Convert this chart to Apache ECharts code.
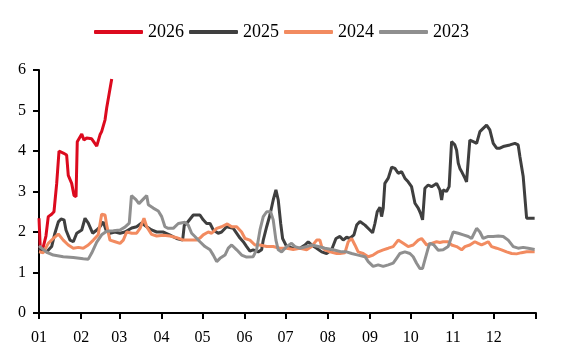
<!DOCTYPE html>
<html>
<head>
<meta charset="utf-8">
<script src="https://cdn.jsdelivr.net/npm/echarts@6/dist/echarts.min.js"></script>
<style>html,body{margin:0;padding:0;background:#fff;}#c{width:563px;height:364px;}</style>
</head>
<body>
<div id="c"></div>
<script>
// Month boundaries (day of year) and tick labels
var monthStarts = [0, 31, 59, 90, 120, 151, 181, 212, 243, 273, 304, 334, 365];
var monthLabels = ['01','02','03','04','05','06','07','08','09','10','11','12'];

// 2026
var days2026 = [0,1,2.9,5.1,6.8,9.3,11.0,13.0,14.7,17.8,20.3,21.5,24.0,25.7,27.2,28.1,31.4,33.0,35.0,38.7,42.4,44.8,46.0,48.5,49.7,53.4];
var vals2026 = [2.34,1.55,1.6,1.9,2.38,2.44,2.5,3.2,4.0,3.95,3.9,3.4,3.2,2.9,2.87,4.23,4.42,4.27,4.32,4.3,4.12,4.4,4.48,4.77,5.06,5.78];

// 2025
var days2025 = [0,5.7,9.3,11.7,14.2,16.2,18.4,19.8,22.8,25.2,27.7,31.4,33.8,36.2,39.4,42.4,44.8,47.2,49.2,52.1,55.9,59.5,63.1,68.1,71.7,75.4,79.1,82.7,86.4,91.0,95.9,101.1,105.5,106.7,108.4,113.3,118.2,120.6,123.1,125.6,128.0,131.6,134.1,137.8,142.7,147.6,150.0,152.5,154.9,157.3,161.0,163.5,164.7,167.2,169.6,172.0,174.0,175.7,177.5,178.9,181.9,186.7,191.6,195.3,197.7,200.2,203.9,207.6,211.2,214.9,218.1,221.0,223.4,225.9,228.3,231.3,233.3,235.7,239.4,243.0,245.0,246.7,248.4,250.4,251.6,252.8,254.0,256.5,259.0,261.4,263.8,266.3,268.7,271.1,273.6,276.1,278.5,280.2,281.7,283.4,285.8,288.3,292.0,294.4,295.7,296.8,299.3,301.2,303.0,305.4,306.7,307.9,309.1,310.4,312.8,314.0,316.4,318.9,321.4,323.8,326.2,328.7,331.1,333.6,336.1,338.5,340.9,345.8,349.5,351.9,353.2,355.6,358.1,364];
var vals2025 = [1.6,1.51,1.64,1.97,2.25,2.32,2.3,2.05,1.8,1.76,1.97,2.05,2.34,2.22,1.97,2.05,2.13,2.25,2.05,1.97,2.0,1.97,2.0,2.1,2.13,2.22,2.13,2.05,2.0,2.0,1.93,1.84,1.8,2.17,2.21,2.42,2.42,2.3,2.21,2.21,2.05,1.97,2.0,2.13,2.09,1.85,1.76,1.64,1.53,1.56,1.51,1.56,1.8,2.13,2.42,2.79,3.04,2.79,2.21,1.84,1.64,1.6,1.6,1.68,1.76,1.68,1.6,1.51,1.47,1.56,1.84,1.89,1.8,1.87,1.84,1.93,2.17,2.26,2.17,2.05,1.98,2.21,2.5,2.61,2.38,2.59,3.2,3.33,3.6,3.57,3.45,3.49,3.33,3.24,3.12,2.71,2.59,2.46,2.3,3.08,3.16,3.12,3.2,3.04,2.79,3.04,3.0,3.12,4.23,4.15,4.02,3.7,3.57,3.49,3.33,3.24,4.27,4.23,4.19,4.48,4.56,4.64,4.52,4.19,4.07,4.07,4.11,4.15,4.19,4.15,3.86,3.37,2.34,2.34];

// 2024
var days2024 = [0,3.2,6.8,10.5,14.2,17.8,21.5,25.2,28.9,32.5,36.2,39.9,43.5,46.0,48.5,49.7,52.1,55.9,59.5,61.9,64.4,68.1,71.7,74.2,77.1,79.1,82.7,86.4,91.3,96.2,101.1,106.0,110.9,115.8,118.2,120.6,124.3,126.8,130.5,134.1,138.3,141.5,145.2,146.1,148.8,151.3,154.9,158.6,162.3,167.2,172.0,176.9,181.9,186.7,191.6,196.6,200.2,203.9,206.3,207.6,210.0,213.7,218.6,221.0,224.7,227.1,229.6,232.0,234.4,238.1,241.8,245.4,249.1,252.8,256.5,260.1,263.8,267.5,271.1,274.8,278.5,281.0,284.7,288.3,292.0,294.4,296.8,300.5,303.0,306.7,310.4,312.8,316.4,320.1,322.5,325.0,327.5,329.9,332.4,336.1,339.7,343.4,347.1,350.7,354.4,358.1,364];
var vals2024 = [1.51,1.49,1.72,1.84,1.95,1.8,1.68,1.6,1.62,1.6,1.68,1.8,1.93,2.44,2.42,2.17,1.8,1.76,1.72,1.8,2.0,1.97,1.97,2.09,2.34,2.13,1.94,1.9,1.92,1.9,1.86,1.8,1.8,1.8,1.85,1.93,2.0,1.97,2.09,2.13,2.2,2.13,2.13,2.1,2.0,1.84,1.8,1.68,1.68,1.64,1.64,1.6,1.6,1.57,1.6,1.56,1.64,1.8,1.8,1.64,1.56,1.51,1.47,1.47,1.49,1.76,1.84,1.68,1.51,1.47,1.39,1.43,1.51,1.56,1.6,1.64,1.8,1.72,1.64,1.68,1.8,1.84,1.68,1.72,1.76,1.74,1.76,1.76,1.68,1.64,1.56,1.64,1.68,1.76,1.72,1.68,1.72,1.76,1.64,1.6,1.56,1.51,1.47,1.46,1.49,1.51,1.51];

// 2023
var days2023 = [0,2.0,5.7,10.5,17.8,25.2,32.5,36.2,38.7,42.4,46.0,49.7,54.6,59.5,63.1,66.3,67.9,71.2,73.4,77.1,79.1,80.3,83.9,87.6,90.1,92.5,94.9,98.6,102.3,107.2,109.6,112.1,114.5,118.2,121.9,125.6,128.0,130.5,132.9,136.6,139.0,141.5,145.2,148.8,152.5,157.3,159.8,162.3,164.7,167.2,170.1,172.0,174.0,175.7,178.2,181.9,185.5,188.0,191.6,196.6,200.2,205.1,210.0,216.1,222.2,225.9,229.6,234.4,239.4,241.8,245.4,249.1,252.8,256.5,260.1,262.6,265.1,268.7,272.4,274.8,277.3,279.7,281.7,283.4,285.8,287.0,290.0,293.2,296.8,300.5,304.2,307.9,311.6,315.3,317.7,321.4,323.8,326.2,329.9,333.6,337.3,340.9,344.6,348.3,351.9,355.6,359.3,364];
var vals2023 = [1.66,1.6,1.5,1.43,1.39,1.37,1.34,1.33,1.48,1.75,1.93,2.02,2.03,2.05,2.12,2.22,2.9,2.8,2.7,2.83,2.9,2.67,2.59,2.52,2.38,2.13,2.09,2.09,2.21,2.24,2.17,1.97,1.89,1.76,1.64,1.56,1.43,1.27,1.35,1.43,1.6,1.68,1.56,1.43,1.38,1.39,1.56,2.05,2.38,2.5,2.5,2.3,1.8,1.56,1.51,1.64,1.72,1.64,1.6,1.64,1.68,1.64,1.6,1.56,1.51,1.51,1.47,1.43,1.39,1.27,1.15,1.19,1.15,1.19,1.23,1.35,1.47,1.51,1.47,1.39,1.23,1.1,1.1,1.31,1.6,1.72,1.68,1.55,1.56,1.64,2.0,1.97,1.93,1.89,1.84,2.09,2.0,1.84,1.89,1.89,1.9,1.89,1.8,1.64,1.6,1.62,1.6,1.57];

function pairs(d, v) { return d.map(function (x, i) { return [x, v[i]]; }); }

var font = 'Liberation Serif';
var chart = echarts.init(document.getElementById('c'), null, { renderer: 'canvas' });
var mk = function (name, d, v, color) {
  return {
    name: name, type: 'line', data: pairs(d, v), showSymbol: false, symbol: 'none',
    lineStyle: { color: color, width: 3 }, itemStyle: { color: color }, animation: false
  };
};
chart.setOption({
  animation: false,
  legend: {
    top: 18, left: 'center', itemWidth: 49, itemHeight: 4, itemGap: 5, icon: 'roundRect',
    textStyle: { fontFamily: font, fontSize: 18, color: '#000' },
    data: ['2026', '2025', '2024', '2023']
  },
  grid: { left: 39, right: 27, top: 70, bottom: 51 },
  xAxis: {
    type: 'value', min: 0, max: 365,
    splitLine: { show: false },
    axisLine: { lineStyle: { color: '#000', width: 2 } },
    axisTick: { customValues: monthStarts, length: 6, lineStyle: { color: '#000', width: 2 } },
    axisLabel: {
      customValues: monthStarts.slice(0, 12), margin: 17,
      fontFamily: font, fontSize: 16, color: '#000',
      formatter: function (v) { var i = monthStarts.indexOf(v); return i >= 0 && i < 12 ? monthLabels[i] : ''; }
    }
  },
  yAxis: {
    type: 'value', min: 0, max: 6, interval: 1,
    splitLine: { show: false },
    axisLine: { show: true, lineStyle: { color: '#000', width: 2 } },
    axisTick: { show: true, length: 6, lineStyle: { color: '#000', width: 2 } },
    axisLabel: { margin: 13, fontFamily: font, fontSize: 16, color: '#000' }
  },
  series: [
    mk('2026', days2026, vals2026, '#dc0a1e'),
    mk('2025', days2025, vals2025, '#3f3f3f'),
    mk('2024', days2024, vals2024, '#f28b60'),
    mk('2023', days2023, vals2023, '#8f8f8f')
  ]
});
</script>
</body>
</html>
